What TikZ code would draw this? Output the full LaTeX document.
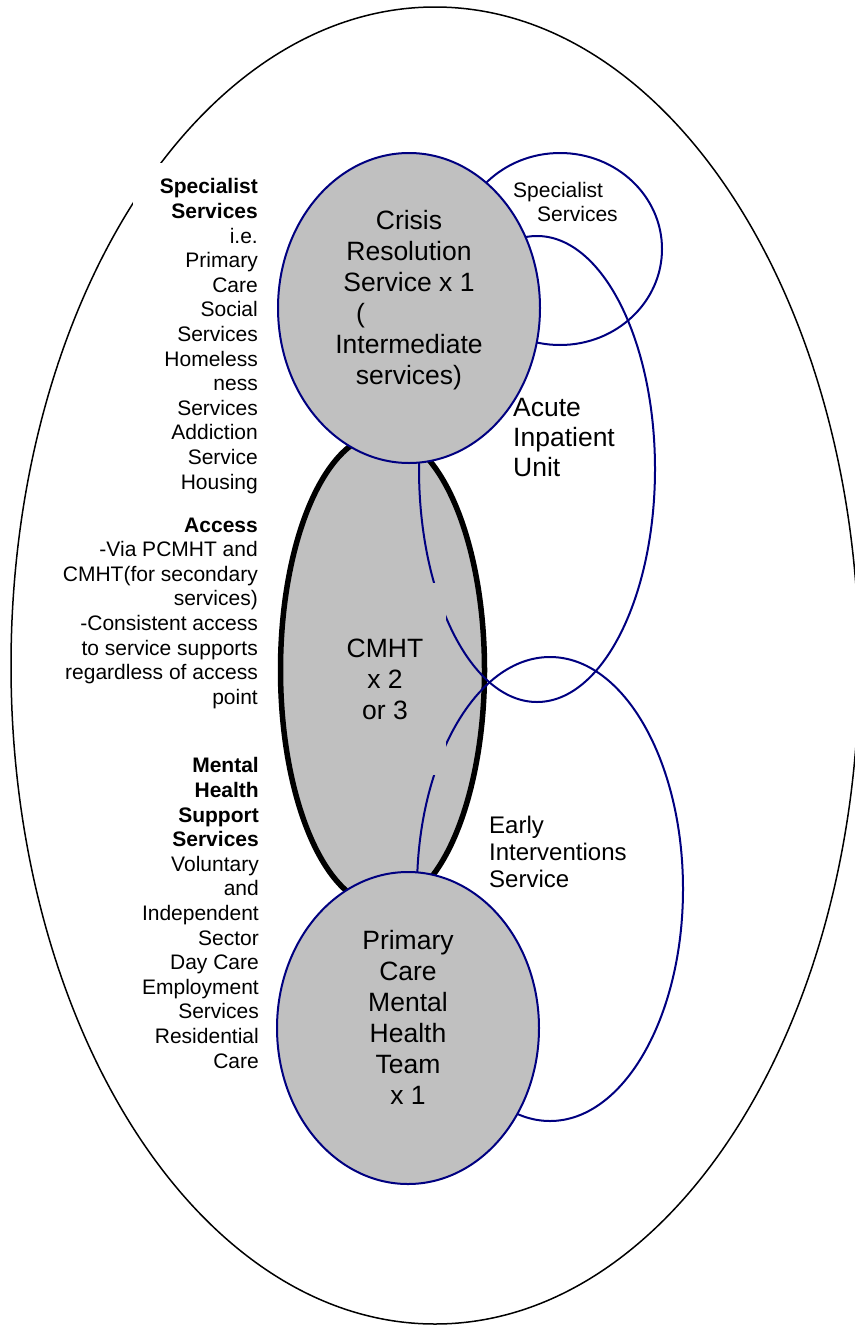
\documentclass[tikz,border=0pt]{standalone}
\usepackage{fontspec}
\setmainfont{Liberation Sans}
\usetikzlibrary{shapes.geometric}
\definecolor{navyline}{HTML}{000080}
\definecolor{silverfill}{HTML}{C0C0C0}
\newcommand{\sideFont}{\fontsize{21}{24.6}\selectfont}
\newcommand{\smallFont}{\fontsize{21}{24}\selectfont}
\newcommand{\midFont}{\fontsize{24}{27}\selectfont}
\newcommand{\bigFont}{\fontsize{26.5}{30.9}\selectfont}

\begin{document}
\begin{tikzpicture}[x=1pt,y=-1pt,
  ring/.style={ellipse, inner sep=0pt, outer sep=0pt},
  team/.style={ring, fill=silverfill, draw=navyline, line width=2pt},
  loop/.style={ring, draw=navyline, line width=2pt},
  sidetext/.style={inner sep=0pt, align=right, anchor=north east, font=\sideFont},
  teamtext/.style={inner sep=0pt, align=center, anchor=north, font=\bigFont},
  looptext/.style={inner sep=0pt, align=left, anchor=north west}]
\useasboundingbox (0,0) rectangle (854,1325);
\node[ring, draw=black, line width=1.5pt, minimum width=848pt, minimum height=1317pt] (whole) at (435,665.5) {};
\node[ring, fill=silverfill, draw=black, line width=5.5pt, minimum width=204pt, minimum height=472pt] (cmht) at (382.5,670) {};
\node[loop, minimum width=204pt, minimum height=192pt] (specialist) at (560,249) {};
\node[loop, minimum width=236pt, minimum height=466pt] (acute) at (537,469) {};
\node[loop, minimum width=266pt, minimum height=464pt] (early) at (550,889) {};
\node[fill=silverfill, inner sep=0pt, minimum width=122pt, minimum height=192pt, align=center, font=\bigFont] (cmhtlabel) at (385,679) {CMHT\\x 2\\or 3};
\node[team, minimum width=262pt, minimum height=310pt] (crisis) at (409,308) {};
\node[team, minimum width=262pt, minimum height=312pt] (primary) at (408,1028) {};
\node[teamtext] (crisislabel) at (409,210.5) {Crisis\\Resolution\\Service x 1\\\makebox[106pt][l]{(}\\Intermediate\\services)};
\node[teamtext] (primarylabel) at (408,930.5) {Primary\\Care\\Mental\\Health\\Team\\x 1};
\node[looptext, font=\smallFont] (specialistlabel) at (513,181.7) {Specialist\\\hspace*{24pt}Services};
\node[looptext, font=\fontsize{26.5}{30}\selectfont] (acutelabel) at (513,398) {Acute\\Inpatient\\Unit};
\node[looptext, font=\midFont] (earlylabel) at (489,815.5) {Early\\Interventions\\Service};
\fill[white] (133,163) rectangle (262,491);
\node[sidetext] (specialistside) at (258,178.5) {\textbf{Specialist}\\\textbf{Services}\\i.e.\\Primary\\Care\\Social\\Services\\Homeless\\ness\\Services\\Addiction\\Service\\Housing};
\node[sidetext] (accessside) at (258,517.5) {\textbf{Access}\\-Via PCMHT and\\CMHT(for secondary\\services)\\-Consistent access\\to service supports\\regardless of access\\point};
\node[sidetext] (supportside) at (259,757.5) {\textbf{Mental}\\\textbf{Health}\\\textbf{Support}\\\textbf{Services}\\Voluntary\\and\\Independent\\Sector\\Day Care\\Employment\\Services\\Residential\\Care};
\end{tikzpicture}
\end{document}
